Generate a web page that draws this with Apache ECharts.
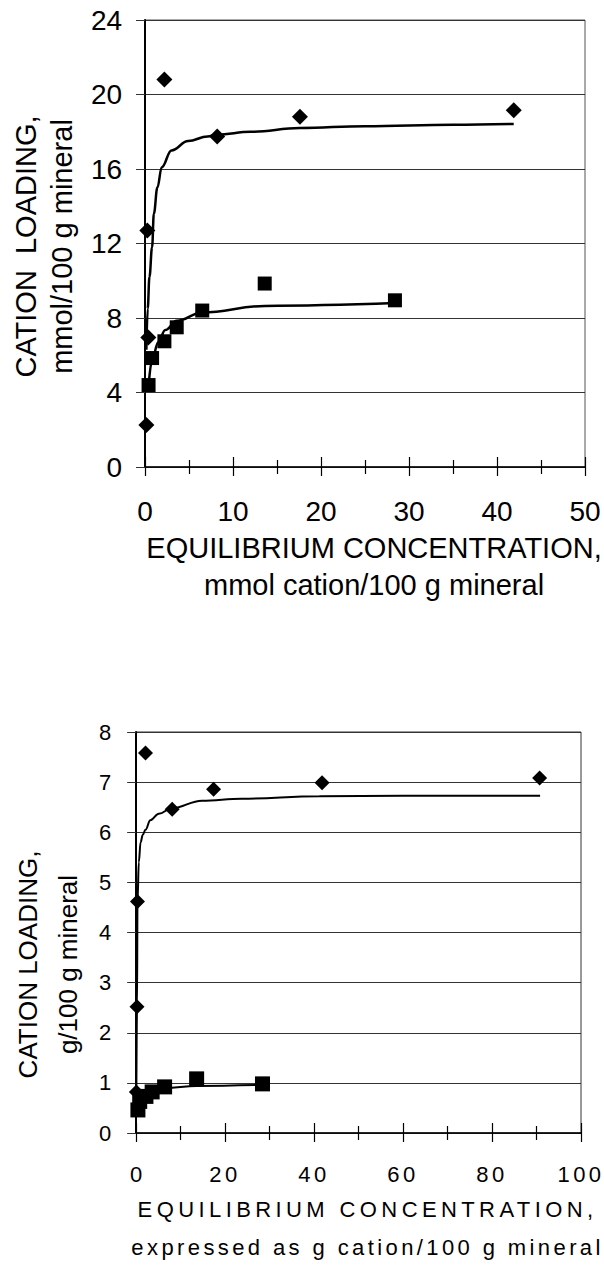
<!DOCTYPE html>
<html>
<head>
<meta charset="utf-8">
<script src="https://cdn.jsdelivr.net/npm/echarts@6/dist/echarts.min.js"></script>
<style>
    html, body { margin: 0; padding: 0; background: #fff; }
    #mmol-chart { width: 604px; height: 640px; }
    #gram-chart { width: 604px; height: 631px; }
</style>
</head>
<body>
<div id="mmol-chart"></div>
<div id="gram-chart"></div>
<script>
// upper plot: mmol/100 g mineral
var mmolDiamondX = [0.15, 0.37, 0.26, 2.2, 8.2, 17.6, 41.9];
var mmolDiamondY = [2.25, 6.95, 12.7, 20.8, 17.75, 18.8, 19.15];
var mmolSquareX = [0.4, 0.8, 2.2, 3.6, 6.5, 13.6, 28.4];
var mmolSquareY = [4.4, 5.85, 6.75, 7.5, 8.4, 9.85, 8.95];
var mmolDiamondFitX = [0.15, 0.3, 0.5, 0.8, 1.0, 1.4, 1.9, 3.0, 4.9, 7.1, 8.2, 12, 17.6, 25, 35, 41.9];
var mmolDiamondFitY = [6.3, 8.5, 10.2, 11.8, 13.6, 15.0, 16.1, 17.0, 17.5, 17.75, 17.85, 18.0, 18.2, 18.3, 18.38, 18.42];
var mmolSquareFitX = [0.37, 0.8, 1.5, 2.3, 3.6, 6.5, 13.6, 28.4];
var mmolSquareFitY = [4.2, 5.75, 6.7, 7.35, 7.85, 8.3, 8.65, 8.8];

// lower plot: g/100 g mineral
var gramDiamondX = [0.05, 0.2, 0.3, 2.1, 8.1, 17.4, 41.8, 90.7];
var gramDiamondY = [0.82, 2.52, 4.62, 7.58, 6.46, 6.86, 6.99, 7.08];
var gramSquareX = [0.4, 0.8, 2.2, 3.6, 6.4, 13.6, 28.4];
var gramSquareY = [0.46, 0.63, 0.73, 0.82, 0.92, 1.08, 0.98];
var gramDiamondFitX = [0.05, 0.2, 0.3, 0.6, 1.0, 1.5, 2.1, 3.2, 5.1, 8.0, 14.8, 23.7, 41.2, 60, 90.8];
var gramDiamondFitY = [0.85, 2.5, 4.6, 5.4, 5.8, 5.95, 6.05, 6.24, 6.37, 6.48, 6.63, 6.67, 6.72, 6.73, 6.73];
var gramSquareFitX = [0.4, 0.8, 2.2, 3.6, 6.4, 13.6, 28.4];
var gramSquareFitY = [0.5, 0.66, 0.8, 0.86, 0.9, 0.94, 0.96];

var FONT = 'Liberation Sans, Arial, sans-serif';

function pairs(xs, ys) {
    return xs.map(function (x, i) { return [x, ys[i]]; });
}

function lineSeries(xs, ys, width) {
    return {
        type: 'line',
        data: pairs(xs, ys),
        showSymbol: false,
        smooth: 0.4,
        smoothMonotone: 'x',
        lineStyle: { color: '#000', width: width },
        z: 2
    };
}

function markSeries(xs, ys, symbol, size) {
    return {
        type: 'scatter',
        data: pairs(xs, ys),
        symbol: symbol,
        symbolSize: size,
        itemStyle: { color: '#000', opacity: 1 },
        z: 3
    };
}

// two x axes on the same edge so the ticks cross the axis line
function xAxes(max, interval, labelSize, name, nameStyle, nameGap) {
    var tickStyle = { color: '#000', width: 1.2 };
    return [
        {
            type: 'value', min: 0, max: max, interval: interval, position: 'bottom',
            axisLine: { show: true, lineStyle: { color: '#000', width: 1.5 } },
            axisTick: { show: true, length: 9, lineStyle: tickStyle },
            minorTick: { show: true, splitNumber: 2, length: 7, lineStyle: tickStyle },
            axisLabel: { margin: 30, fontSize: labelSize, color: '#000', fontFamily: FONT },
            splitLine: { show: false },
            name: name,
            nameLocation: 'middle',
            nameGap: nameGap,
            nameTextStyle: nameStyle
        },
        {
            type: 'value', min: 0, max: max, interval: interval, position: 'bottom',
            axisLine: { show: false },
            axisTick: { show: true, inside: true, length: 10, lineStyle: tickStyle },
            minorTick: { show: true, splitNumber: 2, length: 7, lineStyle: tickStyle },
            axisLabel: { show: false },
            splitLine: { show: false }
        }
    ];
}

var mmolChart = echarts.init(document.getElementById('mmol-chart'), null, { renderer: 'svg' });
var mmol_option = {
    animation: false,
    grid: { left: 136, top: 20, width: 449, height: 447, show: true, borderColor: '#555', borderWidth: 1 },
    xAxis: xAxes(50, 10, 28, 'EQUILIBRIUM CONCENTRATION,\nmmol cation/100 g mineral',
        { fontSize: 29, lineHeight: 37, color: '#000', fontFamily: FONT, padding: [0, 0, 0, 18] }, 56),
    yAxis: {
        type: 'value', min: 0, max: 24, interval: 4,
        axisLine: { show: true, lineStyle: { color: '#000', width: 2 } },
        axisTick: { show: true, length: 9, lineStyle: { color: '#333' } },
        axisLabel: { margin: 23, fontSize: 28, color: '#000', fontFamily: FONT },
        splitLine: { show: true, lineStyle: { color: '#333', width: 1 } },
        name: 'CATION  LOADING,\nmmol/100 g mineral',
        nameLocation: 'middle',
        nameGap: 56,
        nameTextStyle: { fontSize: 29, lineHeight: 36, color: '#000', fontFamily: FONT, padding: [0, 6, 0, 0] }
    },
    series: [
        lineSeries(mmolDiamondFitX, mmolDiamondFitY, 2.5),
        lineSeries(mmolSquareFitX, mmolSquareFitY, 2.5),
        markSeries(mmolDiamondX, mmolDiamondY, 'diamond', 16),
        markSeries(mmolSquareX, mmolSquareY, 'rect', 14)
    ]
};
mmolChart.setOption(mmol_option);

var gramChart = echarts.init(document.getElementById('gram-chart'), null, { renderer: 'svg' });
var gram_option = {
    animation: false,
    grid: { left: 134, top: 92, width: 447, height: 408, show: true, borderColor: '#333', borderWidth: 1 },
    xAxis: xAxes(100, 20, 22, 'EQUILIBRIUM CONCENTRATION,\nexpressed as g cation/100 g mineral',
        { fontSize: 22, lineHeight: 38, color: '#000', fontFamily: FONT, padding: [0, 0, 0, 18] }, 57),
    yAxis: {
        type: 'value', min: 0, max: 8, interval: 1,
        axisLine: { show: true, lineStyle: { color: '#000', width: 2 } },
        axisTick: { show: true, length: 9, lineStyle: { color: '#333' } },
        axisLabel: { margin: 25, fontSize: 22, color: '#000', fontFamily: FONT },
        splitLine: { show: true, lineStyle: { color: '#333', width: 1 } },
        name: 'CATION LOADING,\ng/100 g mineral',
        nameLocation: 'middle',
        nameGap: 45,
        nameTextStyle: { fontSize: 26, lineHeight: 40, color: '#000', fontFamily: FONT, padding: [0, 64, 0, 0] }
    },
    series: [
        lineSeries(gramDiamondFitX, gramDiamondFitY, 2),
        lineSeries(gramSquareFitX, gramSquareFitY, 2),
        markSeries(gramDiamondX, gramDiamondY, 'diamond', 15),
        markSeries(gramSquareX, gramSquareY, 'rect', 15)
    ]
};
gramChart.setOption(gram_option);

// the lower figure's horizontal text is set wide
var spacing = {
    'EQUILIBRIUM CONCENTRATION,': '4.4px',
    'expressed as g cation/100 g mineral': '3.4px',
    'CATION LOADING,': '0px',
    'g/100 g mineral': '0px'
};
document.querySelectorAll('#gram-chart text').forEach(function (t) {
    var s = spacing[t.textContent];
    if (s === undefined) s = t.textContent.length > 1 ? '3.5px' : '0px';
    t.style.letterSpacing = s;
});
</script>
</body>
</html>
